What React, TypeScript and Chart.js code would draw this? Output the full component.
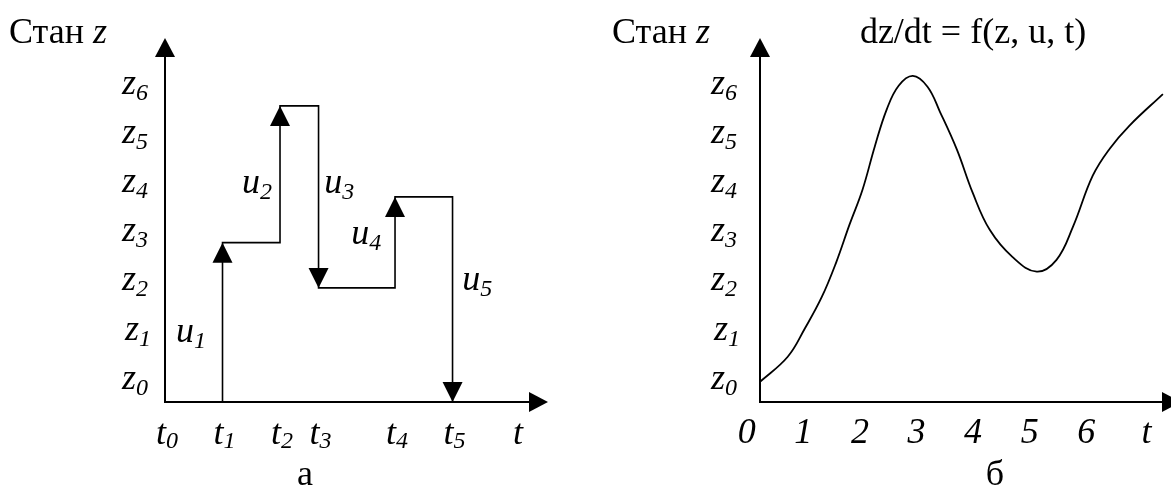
import React, { useEffect, useRef } from "react";
import { Chart, registerables } from "chart.js";

Chart.register(...registerables);

const FONT = '"Liberation Serif", "Times New Roman", serif';
const MAIN = 36;
const SUB = 24;

// ---------- Panel "а": stepwise state changes under controls u1..u5 ----------
const controlTimes = [1, 2, 2.67, 4, 5]; // t1..t5
const stateAfterControl = [2.89, 5.67, 1.97, 3.82, -0.35];
const initialState = -0.35;
const controlNames = ["1", "2", "3", "4", "5"];
const controlLabelT = [0.45, 1.6, 3.03, 3.5, 5.43];
const controlLabelZ = [0.96, 3.98, 3.98, 2.95, 2.0];
const leftTimeTicks = [0, 1, 2, 2.67, 4, 5];
const leftTimeSubs = ["0", "1", "2", "3", "4", "5"];

// ---------- Panel "б": continuous state trajectory ----------
const curveT = [0.27, 0.76, 1.06, 1.36, 1.62, 1.85, 2.08, 2.3, 2.51, 2.72, 2.97, 3.23, 3.45, 3.75, 4.03, 4.33, 4.73, 5.16, 5.51, 5.8, 6.15, 6.45, 6.8, 7.39];
const curveZ = [0.06, 0.57, 1.14, 1.78, 2.5, 3.25, 3.96, 4.85, 5.6, 6.08, 6.28, 6.06, 5.55, 4.78, 3.9, 3.15, 2.6, 2.3, 2.54, 3.21, 4.25, 4.8, 5.27, 5.91];
const rightTimeTicks = [0, 1, 2, 3, 4, 5, 6];
const rightTimeLabels = ["0", "1", "2", "3", "4", "5", "6"];

// ---------- shared ----------
const stateTicks = [0, 1, 2, 3, 4, 5, 6];
const stateSubs = ["0", "1", "2", "3", "4", "5", "6"];

function subWidth(ctx: CanvasRenderingContext2D, main: string, sub: string) {
  ctx.font = `italic ${MAIN}px ${FONT}`;
  const w1 = ctx.measureText(main).width;
  ctx.font = `italic ${SUB}px ${FONT}`;
  const w2 = ctx.measureText(sub).width;
  return { w1, w2, total: w1 + w2 };
}

function drawSub(ctx: CanvasRenderingContext2D, main: string, sub: string, x: number, y: number, drop = 5) {
  const { w1 } = subWidth(ctx, main, sub);
  ctx.textAlign = "left";
  ctx.textBaseline = "alphabetic";
  ctx.font = `italic ${MAIN}px ${FONT}`;
  ctx.fillText(main, x, y);
  ctx.font = `italic ${SUB}px ${FONT}`;
  ctx.fillText(sub, x + w1, y + drop);
}

function tri(ctx: CanvasRenderingContext2D, tipX: number, tipY: number, dir: "up" | "down" | "right", len = 20, half = 10) {
  ctx.beginPath();
  if (dir === "up") {
    ctx.moveTo(tipX, tipY);
    ctx.lineTo(tipX - half, tipY + len);
    ctx.lineTo(tipX + half, tipY + len);
  } else if (dir === "down") {
    ctx.moveTo(tipX, tipY);
    ctx.lineTo(tipX - half, tipY - len);
    ctx.lineTo(tipX + half, tipY - len);
  } else {
    ctx.moveTo(tipX, tipY);
    ctx.lineTo(tipX - len, tipY - half);
    ctx.lineTo(tipX - len, tipY + half);
  }
  ctx.closePath();
  ctx.fill();
}

function drawAxes(chart: any) {
  const ctx: CanvasRenderingContext2D = chart.ctx;
  const a = chart.chartArea;
  ctx.save();
  ctx.strokeStyle = "#000";
  ctx.fillStyle = "#000";
  ctx.lineWidth = 2;
  ctx.beginPath();
  ctx.moveTo(a.left, a.top + 10);
  ctx.lineTo(a.left, a.bottom);
  ctx.lineTo(a.right - 10, a.bottom);
  ctx.stroke();
  tri(ctx, a.left, a.top, "up", 19, 10);
  tri(ctx, a.right, a.bottom, "right", 19, 10);
  ctx.restore();
}

function drawStateLabels(chart: any, leftX: number) {
  const ctx: CanvasRenderingContext2D = chart.ctx;
  const y = chart.scales.y;
  ctx.save();
  ctx.fillStyle = "#000";
  stateTicks.forEach((v, i) => {
    drawSub(ctx, "z", stateSubs[i], leftX + (i === 1 ? 3 : 0), y.getPixelForValue(v) + 4, 6);
  });
  ctx.restore();
}

function drawHeader(ctx: CanvasRenderingContext2D, x: number) {
  ctx.save();
  ctx.fillStyle = "#000";
  ctx.textAlign = "left";
  ctx.textBaseline = "alphabetic";
  ctx.font = `${MAIN}px ${FONT}`;
  const part = "Стан ";
  ctx.fillText(part, x, 43);
  const w = ctx.measureText(part).width;
  ctx.font = `italic ${MAIN}px ${FONT}`;
  ctx.fillText("z", x + w, 43);
  ctx.restore();
}

const leftPlugin = {
  id: "leftPanel",
  afterDatasetsDraw(chart: any) {
    const ctx: CanvasRenderingContext2D = chart.ctx;
    const xs = chart.scales.x;
    const ys = chart.scales.y;
    drawAxes(chart);
    // arrowheads on vertical control jumps
    ctx.save();
    ctx.fillStyle = "#000";
    let prev = initialState;
    controlTimes.forEach((t, i) => {
      const next = stateAfterControl[i];
      const px = xs.getPixelForValue(t);
      const py = ys.getPixelForValue(next);
      tri(ctx, px, py, next > prev ? "up" : "down", 20, 10);
      prev = next;
    });
    ctx.restore();
    drawStateLabels(chart, chart.chartArea.left - 43);
    drawHeader(ctx, 9);
    // time labels
    ctx.save();
    ctx.fillStyle = "#000";
    leftTimeTicks.forEach((t, i) => {
      ctx.font = `italic ${MAIN}px ${FONT}`;
      const wt = ctx.measureText("t").width;
      const px = xs.getPixelForValue(t);
      drawSub(ctx, "t", leftTimeSubs[i], px + 1 - wt, 444, 4);
    });
    ctx.font = `italic ${MAIN}px ${FONT}`;
    ctx.textAlign = "center";
    ctx.fillText("t", xs.getPixelForValue(6.14), 444);
    // control labels
    controlNames.forEach((n, i) => {
      const { total } = subWidth(ctx, "u", n);
      const cx = xs.getPixelForValue(controlLabelT[i]);
      const cy = ys.getPixelForValue(controlLabelZ[i]);
      drawSub(ctx, "u", n, cx - total / 2, cy + 4, 6);
    });
    ctx.font = `${MAIN}px ${FONT}`;
    ctx.textAlign = "center";
    ctx.textBaseline = "alphabetic";
    ctx.fillText("а", 305, 485);
    ctx.restore();
  },
};

const rightPlugin = {
  id: "rightPanel",
  afterDatasetsDraw(chart: any) {
    const ctx: CanvasRenderingContext2D = chart.ctx;
    const xs = chart.scales.x;
    drawAxes(chart);
    drawStateLabels(chart, chart.chartArea.left - 49);
    drawHeader(ctx, 27);
    ctx.save();
    ctx.fillStyle = "#000";
    ctx.textAlign = "center";
    ctx.textBaseline = "alphabetic";
    ctx.font = `${MAIN}px ${FONT}`;
    ctx.fillText("dz/dt = f(z, u, t)", 388, 43);
    ctx.font = `italic ${MAIN}px ${FONT}`;
    rightTimeTicks.forEach((t, i) => {
      ctx.fillText(rightTimeLabels[i], xs.getPixelForValue(t) + 2, 443);
    });
    ctx.fillText("t", xs.getPixelForValue(7.1), 443);
    ctx.font = `${MAIN}px ${FONT}`;
    ctx.fillText("б", 410, 485);
    ctx.restore();
  },
};

function buildStepPath() {
  const pts: { x: number; y: number }[] = [];
  let level = initialState;
  controlTimes.forEach((t, i) => {
    pts.push({ x: t, y: level });
    level = stateAfterControl[i];
    pts.push({ x: t, y: level });
  });
  return pts;
}

function baseOptions(xMin: number, xMax: number, pad: { left: number; right: number; top: number; bottom: number }) {
  return {
    responsive: false,
    animation: false as const,
    events: [] as any[],
    layout: { padding: pad },
    plugins: { legend: { display: false }, tooltip: { enabled: false }, title: { display: false } },
    scales: {
      x: { type: "linear" as const, display: false, min: xMin, max: xMax },
      y: { type: "linear" as const, display: false, min: -0.35, max: 7.05 },
    },
  };
}

export default function App() {
  const leftRef = useRef<HTMLCanvasElement | null>(null);
  const rightRef = useRef<HTMLCanvasElement | null>(null);

  useEffect(() => {
    if (!leftRef.current || !rightRef.current) return;
    const left = new Chart(leftRef.current, {
      type: "scatter",
      data: {
        datasets: [
          {
            data: buildStepPath(),
            showLine: true,
            borderColor: "#000",
            borderWidth: 1.6,
            pointRadius: 0,
            tension: 0,
          } as any,
        ],
      },
      options: baseOptions(0, 6.66, { left: 165, right: 37, top: 38, bottom: 84 }) as any,
      plugins: [leftPlugin],
    });
    const right = new Chart(rightRef.current, {
      type: "scatter",
      data: {
        datasets: [
          {
            data: curveT.map((t, i) => ({ x: t, y: curveZ[i] })),
            showLine: true,
            borderColor: "#000",
            borderWidth: 1.8,
            pointRadius: 0,
            tension: 0.4,
          } as any,
        ],
      },
      options: baseOptions(0.27, 7.71, { left: 175, right: 0, top: 38, bottom: 84 }) as any,
      plugins: [rightPlugin],
    });
    return () => {
      left.destroy();
      right.destroy();
    };
  }, []);

  return (
    <div style={{ position: "fixed", left: 0, top: 0, width: 1171, height: 486, overflow: "hidden", background: "#fff" }}>
      <canvas ref={leftRef} width={585} height={486} style={{ position: "absolute", left: 0, top: 0, width: 585, height: 486 }} />
      <canvas ref={rightRef} width={596} height={486} style={{ position: "absolute", left: 585, top: 0, width: 596, height: 486 }} />
    </div>
  );
}
